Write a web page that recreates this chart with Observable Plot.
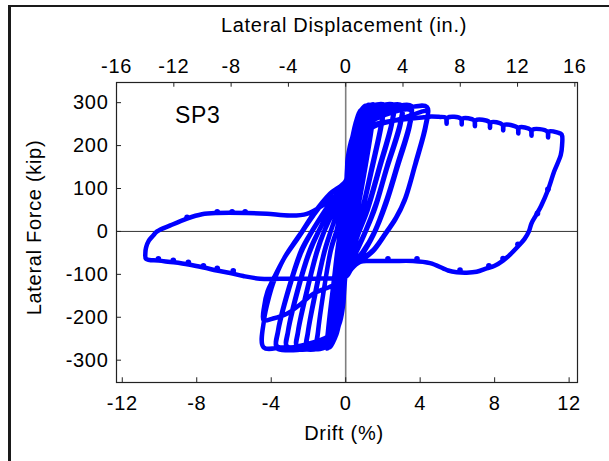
<!DOCTYPE html>
<html>
<head>
<meta charset="utf-8">
<script src="https://cdn.jsdelivr.net/npm/d3@7"></script>
<script src="https://cdn.jsdelivr.net/npm/@observablehq/plot@0.6"></script>
<style>
  html, body { margin: 0; padding: 0; background: #fff; overflow: hidden; }
  #wrap { position: relative; width: 609px; height: 461px; }
  #border { position: absolute; left: 8px; top: 5px; width: 700px; height: 600px;
            border-left: 3px solid #1a1a1a; border-top: 2px solid #1a1a1a; pointer-events: none; }
</style>
</head>
<body>
<div id="wrap"><div id="border"></div></div>
<script>
// ---- axis ticks / labels ----
const driftTicks = [-12, -8, -4, 0, 4, 8, 12];
const dispTicks = [-16, -12, -8, -4, 0, 4, 8, 12, 16];
const forceTicks = [-300, -200, -100, 0, 100, 200, 300];
const inchesPerPercent = 1.3; // displacement (in.) per 1% drift
const xDomain = [-12.31, 12.45];
const yDomain = [-352, 347];

// ---- hysteresis path, [drift %, force kip] ----
const loop025 = [[0,0],[0.12,68],[0.25,140],[0.2,112],[0.08,38],[0,-12],[-0.12,-78],[-0.25,-142],[-0.2,-110],[-0.08,-38],[0,12],
  [0.13,80],[0.26,146],[0.21,114],[0.08,40],[0,-14],[-0.13,-82],[-0.26,-146],[-0.21,-112],[-0.08,-40],[0,16]];
const loop050 = [[0.15,98],[0.3,172],[0.45,220],[0.5,232],[0.45,202],[0.25,108],[0.08,20],[0,-30],[-0.15,-112],[-0.3,-176],[-0.45,-216],[-0.48,-224],[-0.43,-192],[-0.25,-104],[-0.08,-20],[0,28],
  [0.15,102],[0.3,176],[0.48,228],[0.43,196],[0.23,100],[0.06,12],[0,-36],[-0.15,-114],[-0.3,-180],[-0.47,-220],[-0.42,-186],[-0.22,-94],[-0.06,-14],[0,32]];
const loop075 = [[0.1,96],[0.3,190],[0.5,246],[0.77,282],[0.72,250],[0.5,150],[0.25,40],[0.1,-30],[0,-62],[-0.15,-132],[-0.3,-190],[-0.5,-234],[-0.68,-256],[-0.64,-224],[-0.45,-130],[-0.25,-40],[-0.1,14],[0,50],
  [0.15,122],[0.35,206],[0.55,252],[0.76,276],[0.71,244],[0.48,140],[0.22,30],[0.05,-46],[0,-66],[-0.15,-136],[-0.32,-196],[-0.5,-236],[-0.69,-252],[-0.64,-220],[-0.44,-124],[-0.22,-30],[-0.08,26],[0,56]];
const loop100 = [[0.12,142],[0.33,212],[0.6,262],[0.85,284],[1.05,293],[1.0,260],[0.75,165],[0.45,62],[0.2,-18],[0.05,-70],[0,-86],[-0.12,-150],[-0.3,-200],[-0.5,-240],[-0.68,-258],[-0.85,-270],[-0.8,-238],[-0.6,-150],[-0.38,-60],[-0.2,8],[-0.06,56],[0,78],
  [0.12,150],[0.33,212],[0.6,258],[0.85,280],[1.04,286],[0.99,256],[0.73,160],[0.42,55],[0.18,-25],[0.04,-76],[0,-90],[-0.12,-156],[-0.3,-202],[-0.52,-240],[-0.7,-258],[-0.87,-265],[-0.82,-232],[-0.6,-140],[-0.36,-50],[-0.16,20],[-0.04,68],[0,88]];
const loop125 = [[0.1,150],[0.33,214],[0.65,264],[0.95,286],[1.25,295],[1.2,262],[0.9,170],[0.55,60],[0.25,0],[0.1,-50],[0,-88],[-0.12,-152],[-0.3,-202],[-0.5,-240],[-0.75,-262],[-1.01,-273],[-0.96,-240],[-0.7,-140],[-0.45,-45],[-0.3,0],[-0.12,60],[0,90],
  [0.12,152],[0.4,220],[0.8,266],[1.24,287],[1.19,256],[0.88,160],[0.52,50],[0.22,-8],[0.08,-58],[0,-92],[-0.15,-160],[-0.45,-225],[-0.75,-255],[-1.0,-266],[-0.95,-232],[-0.68,-130],[-0.42,-38],[-0.27,6],[-0.1,64],[0,94]];
const loop150 = [[0.1,155],[0.33,214],[0.7,268],[1.0,288],[1.3,294],[1.5,296],[1.45,262],[1.0,140],[0.6,45],[0.35,0],[0.15,-50],[0,-90],[-0.12,-155],[-0.3,-204],[-0.55,-242],[-0.85,-264],[-1.2,-272],[-1.55,-274],[-1.5,-240],[-1.15,-130],[-0.8,-45],[-0.5,0],[-0.2,62],[0,96],
  [0.15,156],[0.45,222],[0.9,268],[1.49,288],[1.44,255],[0.98,130],[0.58,38],[0.32,-6],[0.12,-58],[0,-94],[-0.15,-160],[-0.45,-226],[-0.9,-258],[-1.54,-268],[-1.49,-234],[-1.12,-122],[-0.78,-38],[-0.48,4],[-0.18,66],[0,100]];
const loop200 = [[0.1,158],[0.33,214],[0.7,268],[1.1,288],[1.6,295],[2.0,296],[1.95,262],[1.4,150],[0.9,55],[0.5,0],[0.22,-48],[0,-92],[-0.12,-156],[-0.3,-205],[-0.55,-243],[-0.9,-265],[-1.4,-273],[-2.09,-274],[-2.04,-240],[-1.6,-140],[-1.15,-50],[-0.8,0],[-0.35,58],[0,100],
  [0.15,160],[0.5,226],[1.1,268],[2.0,287],[1.95,254],[1.38,138],[0.88,46],[0.48,-6],[0.2,-56],[0,-96],[-0.15,-160],[-0.5,-228],[-1.1,-258],[-2.08,-268],[-2.03,-234],[-1.58,-130],[-1.12,-42],[-0.78,4],[-0.33,62],[0,104]];
const loop255 = [[0.1,160],[0.33,215],[0.75,268],[1.2,288],[1.9,294],[2.55,295],[2.5,260],[1.8,150],[1.2,60],[0.7,0],[0.32,-48],[0,-94],[-0.12,-158],[-0.3,-206],[-0.6,-245],[-1.0,-266],[-1.7,-273],[-2.62,-273],[-2.57,-238],[-2.05,-135],[-1.55,-50],[-1.15,0],[-0.5,60],[0,104],
  [0.15,162],[0.55,228],[1.2,268],[2.54,285],[2.49,252],[1.78,140],[1.18,50],[0.68,-6],[0.3,-56],[0,-98],[-0.15,-162],[-0.55,-230],[-1.3,-258],[-2.61,-268],[-2.56,-232],[-2.02,-125],[-1.52,-42],[-1.12,4],[-0.48,64],[0,108]];
const loop300 = [[0.1,162],[0.33,215],[0.8,268],[1.4,287],[2.2,293],[3.0,294],[2.95,258],[2.2,150],[1.6,62],[1.05,0],[0.5,-50],[0.15,-78],[0,-96],[-0.12,-160],[-0.3,-207],[-0.6,-246],[-1.1,-267],[-2.0,-273],[-3.16,-273],[-3.11,-238],[-2.55,-135],[-1.95,-50],[-1.45,0],[-0.7,60],[0,108],
  [0.15,165],[0.6,228],[1.4,266],[3.0,283],[2.95,250],[2.17,140],[1.57,52],[1.02,-6],[0.48,-56],[0.13,-82],[0,-100],[-0.15,-164],[-0.6,-232],[-1.5,-258],[-3.15,-268],[-3.1,-232],[-2.52,-125],[-1.92,-42],[-1.42,4],[-0.68,64],[0,112]];
const loop350 = [[0.1,165],[0.35,216],[0.85,266],[1.6,285],[2.6,291],[3.5,293],[3.45,256],[2.8,160],[2.2,75],[1.55,0],[0.9,-48],[0.35,-75],[0,-98],[-0.12,-162],[-0.3,-208],[-0.65,-247],[-1.2,-268],[-2.2,-273],[-3.69,-272],[-3.64,-236],[-3.05,-135],[-2.4,-50],[-1.8,0],[-0.9,60],[0,112],
  [0.15,168],[0.65,228],[1.6,262],[3.5,282],[3.45,248],[2.77,148],[2.17,64],[1.52,-6],[0.88,-54],[0.33,-80],[0,-102],[-0.15,-166],[-0.65,-234],[-1.7,-258],[-3.68,-268],[-3.63,-230],[-3.02,-126],[-2.37,-42],[-1.77,4],[-0.88,64],[0,115]];
const loop440 = [[0.1,168],[0.35,218],[0.9,262],[1.8,280],[3.0,286],[4.37,290],[4.3,250],[3.75,160],[3.2,78],[2.7,32],[2.2,0],[1.5,-42],[0.8,-66],[0.35,-80],[0,-100],[-0.12,-165],[-0.3,-210],[-0.7,-248],[-1.3,-268],[-2.4,-272],[-3.3,-270],[-4.41,-270],[-4.38,-205],[-4.1,-150],[-3.9,-121],[-3.3,-62],[-2.7,-22],[-2.35,0],[-1.75,40],[-0.84,88],[0,118],
  [0.15,172],[0.7,225],[1.6,250],[2.74,260],[3.6,272],[4.37,280],[4.3,244],[3.72,152],[3.17,72],[2.67,28],[2.17,-4],[1.47,-46],[0.78,-70],[0.33,-84],[0,-104],[-0.3,-120],[-0.9,-130],[-1.73,-145],[-2.5,-172],[-3.16,-192],[-3.9,-203],[-4.41,-207]];
const loopBig = [[-4.38,-175],[-4.2,-140],[-3.9,-112],[-3.3,-62],[-2.6,-18],[-1.75,36],[-0.84,86],[0,116],[0.3,172],[0.8,218],[1.5,244],[2.5,257],[3.5,263],[4.2,266],[4.6,268],[5.0,267],
  [5.37,265],[5.42,251],[5.47,265],[6.18,263],[6.23,249],[6.28,263],[6.89,259],[6.94,245],[6.99,259],[7.7,255],[7.75,241],[7.8,254],
  [8.41,249],[8.46,235],[8.51,248],[9.22,242],[9.27,228],[9.32,242],[9.93,237],[9.98,223],[10.03,237],[10.82,233],[10.87,219],[10.92,233],
  [11.4,230],[11.6,226],[11.62,200],[11.55,178],[11.2,140],[10.86,96],[10.5,60],[10.2,36],[9.98,19],[9.84,0],[9.6,-18],[9.25,-35],[8.8,-55],[8.45,-68],
  [8.0,-80],[7.57,-86],[7.03,-94],[6.5,-96],[5.96,-95],[5.5,-91],[5.23,-86],[4.53,-74],[3.62,-69],[2.5,-69],[1.31,-69],[0.77,-71],[0.3,-88],[0.06,-104],
  [-0.6,-109],[-1.75,-110],[-3,-110],[-4.6,-110],[-5.5,-104],[-6.2,-97],[-6.92,-91],[-7.63,-84],[-8.44,-77],[-9.24,-72],[-10.05,-68],[-10.72,-64],
  [-10.76,-50],[-10.72,-37],[-10.58,-22],[-10.35,-10],[-10.13,0],[-9.42,14],[-8.52,30],[-7.72,40],[-6.92,43],[-5.31,43],[-4.23,41],[-2.98,37],[-2.09,41],[-1.2,62],[-0.5,85],[0,102]];

// relaxation marks along the large cycle
const markDrift = [2.27, 3.83, 6.14, 7.69, 8.45, 9.25, 10.3, 10.86, -8.52, -6.9, -6.1, -5.4, -10.06, -9.26, -8.45, -7.64, -6.9, -6.04];
const markForce = [-64, -64, -90, -80, -63, -30, 42, 98, 33, 46, 46, 46, -64, -67, -72, -80, -86, -92];

const path = [loop025, loop050, loop075, loop100, loop125, loop150, loop200, loop255, loop300, loop350, loop440, loopBig]
  .flat().map(([drift, force]) => ({drift, force}));
const marks = markDrift.map((d, i) => ({drift: d, force: markForce[i]}));

const tickLen = 11;      // in force units (~5 px)
const tickLenX = 0.27;   // in drift units (~5 px)
const fmt = d => String(d);

const chart = Plot.plot({
  width: 609,
  height: 461,
  marginLeft: 116,
  marginRight: 32,
  marginTop: 82,
  marginBottom: 79,
  style: {fontFamily: "'Liberation Sans', Arial, sans-serif", fontSize: "20px", letterSpacing: "0.7px", background: "transparent", color: "#000"},
  x: {domain: xDomain, axis: null},
  y: {domain: yDomain, axis: null},
  marks: [
    Plot.ruleX([0], {stroke: "#7f7f7f", strokeWidth: 1.6}),
    Plot.ruleY([0], {stroke: "#333", strokeWidth: 1}),
    Plot.line(path, {x: "drift", y: "force", stroke: "#0000ff", strokeWidth: 4.5, curve: "catmull-rom"}),
    Plot.dot(marks, {x: "drift", y: "force", r: 2.8, fill: "#0000ff"}),
    Plot.frame({stroke: "#222", strokeWidth: 1.2}),
    // inward ticks
    Plot.ruleX(driftTicks, {x: d => d, y1: yDomain[0], y2: yDomain[0] + tickLen, stroke: "#222"}),
    Plot.ruleX(dispTicks, {x: d => d / inchesPerPercent, y1: yDomain[1] - tickLen, y2: yDomain[1], stroke: "#222"}),
    Plot.ruleY(forceTicks, {y: d => d, x1: xDomain[0], x2: xDomain[0] + tickLenX, stroke: "#222"}),
    // tick labels
    Plot.text(driftTicks, {x: d => d, frameAnchor: "bottom", dy: 21, lineAnchor: "middle", text: fmt}),
    Plot.text(dispTicks, {x: d => d / inchesPerPercent, frameAnchor: "top", dy: -15.5, lineAnchor: "middle", text: fmt}),
    Plot.text(forceTicks, {y: d => d, frameAnchor: "left", dx: -8, textAnchor: "end", lineAnchor: "middle", text: fmt}),
    // axis titles
    Plot.text(["Drift (%)"], {frameAnchor: "bottom", dx: -3, dy: 51, textAnchor: "middle", lineAnchor: "middle"}),
    Plot.text(["Lateral Displacement (in.)"], {frameAnchor: "top", dx: -3, dy: -57, textAnchor: "middle", lineAnchor: "middle"}),
    Plot.text(["Lateral Force (kip)"], {frameAnchor: "left", dx: -82, dy: -5, rotate: -90, textAnchor: "middle", lineAnchor: "middle"}),
    Plot.text(["SP3"], {frameAnchor: "top-left", dx: 58.5, dy: 33, textAnchor: "start", lineAnchor: "middle", fontSize: 23})
  ]
});
document.getElementById("wrap").prepend(chart);
</script>
</body>
</html>
